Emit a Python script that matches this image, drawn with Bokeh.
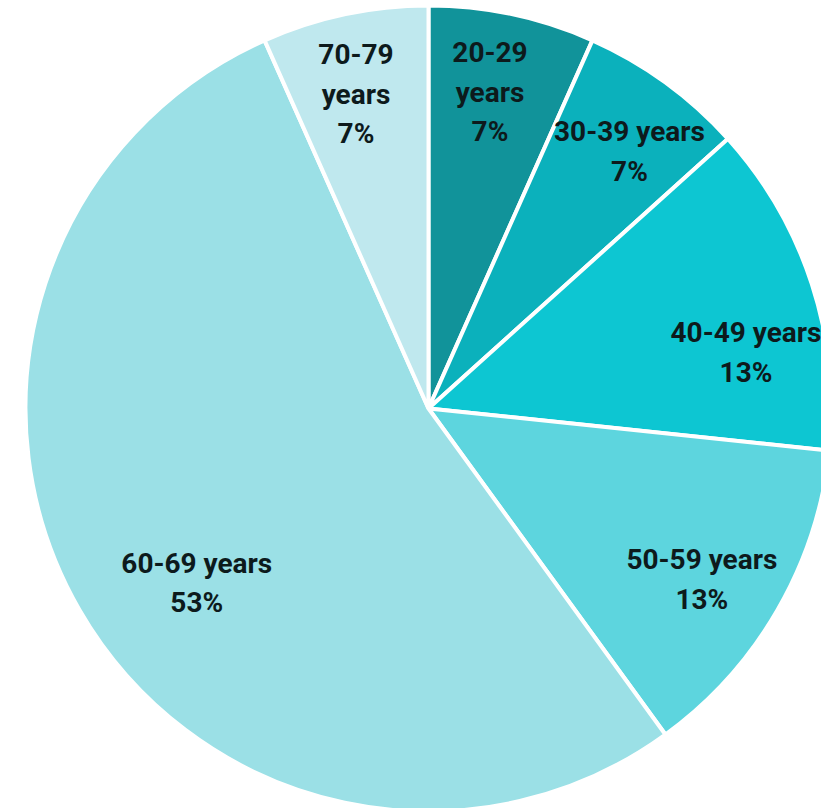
import math
from bokeh.plotting import figure
from bokeh.models import ColumnDataSource, Range1d
from bokeh.core.properties import value
from bokeh.embed import file_html
from bokeh.resources import INLINE

# Data (clockwise from 12 o'clock)
categories = ["20-29 years", "30-39 years", "40-49 years", "50-59 years", "60-69 years", "70-79 years"]
counts = [1, 1, 2, 2, 8, 1]
colors = ["#11939a", "#0bb1bc", "#0dc6d2", "#5dd5de", "#9be0e6", "#bfe8ee"]
# label layout (style): radial fraction and angular shift (deg) per slice
label_r = [0.80, 0.81, 0.80, 0.80, 0.72, 0.80]
label_shift = [-1, 2, 8, 2, -7, -1]
label_text = ["20-29\nyears\n7%", "30-39 years\n7%", "40-49 years\n13%", "50-59 years\n13%",
              "60-69 years\n53%", "70-79\nyears\n7%"]

W, H = 821, 808
cx, cy, R = 428, 400, 403

total = sum(counts)
starts, ends, lx, ly = [], [], [], []
acc = 0
for i, c in enumerate(counts):
    a0 = acc / total * 360
    acc += c
    a1 = acc / total * 360
    starts.append(math.radians(90 - a0))
    ends.append(math.radians(90 - a1))
    mid = (a0 + a1) / 2 + label_shift[i]
    rr = label_r[i] * R
    lx.append(cx + rr * math.sin(math.radians(mid)))
    ly.append(cy + rr * math.cos(math.radians(mid)))

src = ColumnDataSource(dict(start=starts, end=ends, color=colors, cat=categories))
lsrc = ColumnDataSource(dict(x=lx, y=ly, text=label_text))

p = figure(width=W, height=H, output_backend="svg", toolbar_location=None,
           x_range=Range1d(0, W), y_range=Range1d(0, H), min_border=0)
p.axis.visible = False
p.grid.visible = False
p.outline_line_color = None
p.background_fill_color = "white"

p.wedge(x=cx, y=cy, radius=R, start_angle="start", end_angle="end", direction="clock",
        fill_color="color", line_color="white", line_width=4, source=src)

p.text(x="x", y="y", text="text", source=lsrc, text_align="center", text_baseline="middle",
       text_font=value("Roboto"), text_font_style="bold", text_font_size="28px",
       text_line_height=1.2, text_color="#0d1a1c")

open("out.html", "w").write(file_html(p, INLINE))
